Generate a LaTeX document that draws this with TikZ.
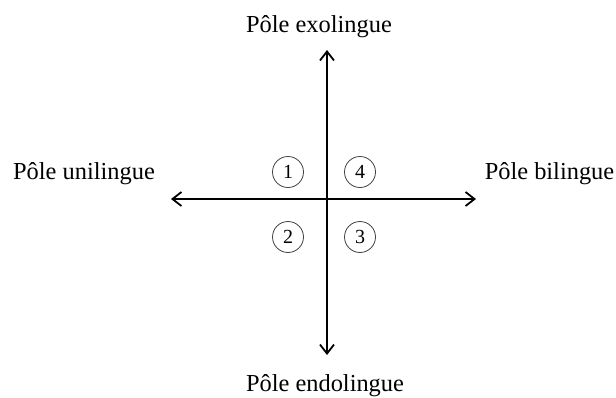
\documentclass[tikz,border=0pt]{standalone}
\usepackage{fontspec}
\setmainfont{Liberation Serif}
\usetikzlibrary{arrows.meta}
\begin{document}
\begin{tikzpicture}[x=0.5pt,y=-0.5pt,
  axis/.style={line width=1pt,-{Straight Barb[length=4.5pt,width=7pt,line width=0.9pt]}},
  pole/.style={anchor=base,inner sep=0pt,font=\fontsize{12.2pt}{14pt}\selectfont},
  num/.style={circle,draw=black!75,line width=0.4pt,minimum size=15.5pt,inner sep=0pt,font=\fontsize{10pt}{12pt}\selectfont}]
\useasboundingbox[fill=white] (0,0) rectangle (616,397);
\coordinate (o) at (327,199);
\coordinate (top) at (327,50);
\coordinate (bot) at (327,355);
\coordinate (lft) at (171,199);
\coordinate (rgt) at (476,199);
\draw[axis] (o) -- (top);
\draw[axis] (o) -- (bot);
\draw[axis] (o) -- (lft);
\draw[axis] (o) -- (rgt);
\node[pole] (exo) at (319,32) {Pôle exolingue};
\node[pole] (endo) at (325,391) {Pôle endolingue};
\node[pole] (uni) at (84,179) {Pôle unilingue};
\node[pole] (bi) at (549.5,179) {Pôle bilingue};
\node[num] (n1) at (288,172) {1};
\node[num] (n4) at (360,172) {4};
\node[num] (n2) at (288,237) {2};
\node[num] (n3) at (360,237) {3};
\end{tikzpicture}
\end{document}
